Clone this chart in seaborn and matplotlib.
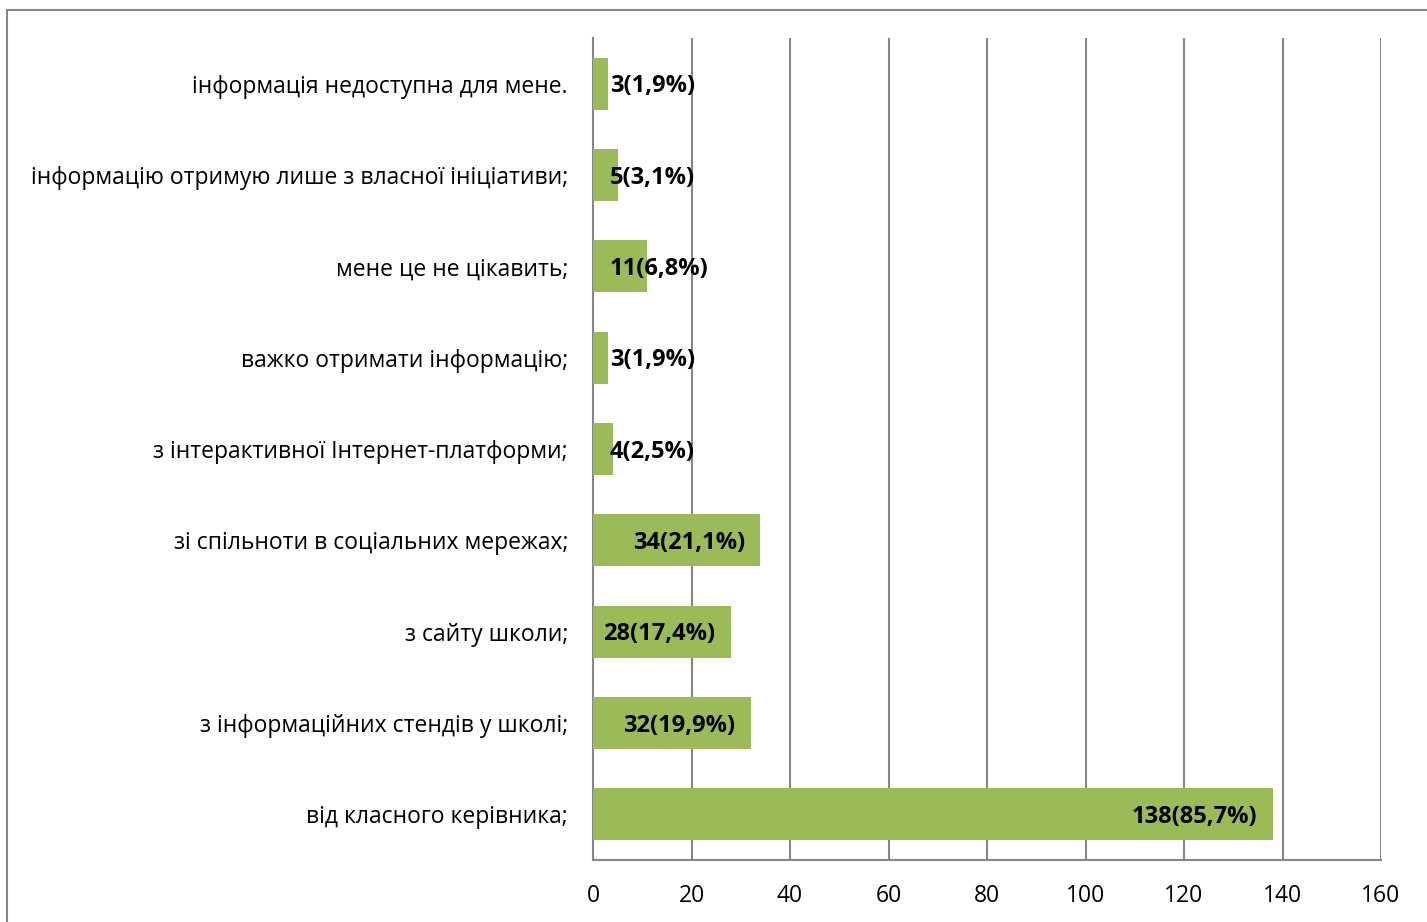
import pandas as pd
import matplotlib.pyplot as plt
import seaborn as sns
from matplotlib.patches import Rectangle

# дані (зверху вниз)
categories = [
    "інформація недоступна для мене.",
    "інформацію отримую лише з власної ініціативи;",
    "мене це не цікавить;",
    "важко отримати інформацію;",
    "з інтерактивної Інтернет-платформи;",
    "зі спільноти в соціальних мережах;",
    "з сайту школи;",
    "з інформаційних стендів у школі;",
    "від класного керівника;",
]
counts = [3, 5, 11, 3, 4, 34, 28, 32, 138]
percents = ["1,9", "3,1", "6,8", "1,9", "2,5", "21,1", "17,4", "19,9", "85,7"]

df = pd.DataFrame({"cat": categories, "n": counts, "pct": percents})

sns.set_style("white")
plt.rcParams["font.family"] = ["Open Sans", "DejaVu Sans"]
plt.rcParams["text.color"] = "black"
plt.rcParams["xtick.color"] = "black"
plt.rcParams["ytick.color"] = "black"

fig = plt.figure(figsize=(14.27, 9.22), dpi=100)
ax = fig.add_axes([593 / 1427, 1 - 860 / 922, 788 / 1427, 822 / 922])

sns.barplot(data=df, x="n", y="cat", color="#9BBB59", saturation=1,
            width=0.57, linewidth=0, ax=ax, zorder=3)

ax.set_xlim(0, 160)
ax.set_xticks(range(0, 161, 20))
ax.grid(axis="x", color="#868686", linewidth=1.5, zorder=0)
ax.set_xlabel("")
ax.set_ylabel("")
ax.tick_params(axis="x", length=0, pad=17, labelsize=16.5)
ax.tick_params(axis="y", length=0, pad=18, labelsize=16.5)

for s in ["top", "right"]:
    ax.spines[s].set_visible(False)
for s in ["left", "bottom"]:
    ax.spines[s].set_color("#868686")
    ax.spines[s].set_linewidth(1.5)

# підписи значень
for i, (n, p) in enumerate(zip(counts, percents)):
    txt = f"{n}({p}%)"
    if n < 20:
        ax.annotate(txt, (0, i), xytext=(12, -2), textcoords="offset points",
                    ha="left", va="center", fontsize=17, fontweight="bold", zorder=5)
    else:
        ax.annotate(txt, (n, i), xytext=(-11, -2), textcoords="offset points",
                    ha="right", va="center", fontsize=17, fontweight="bold", zorder=5)

# рамка діаграми
fig.patches.append(Rectangle((7 / 1427, -0.05), 1.1, 1 - 10 / 922 + 0.05,
                             transform=fig.transFigure, fill=False,
                             edgecolor="#868686", linewidth=1.5))

fig.savefig("out.png", dpi=100)
